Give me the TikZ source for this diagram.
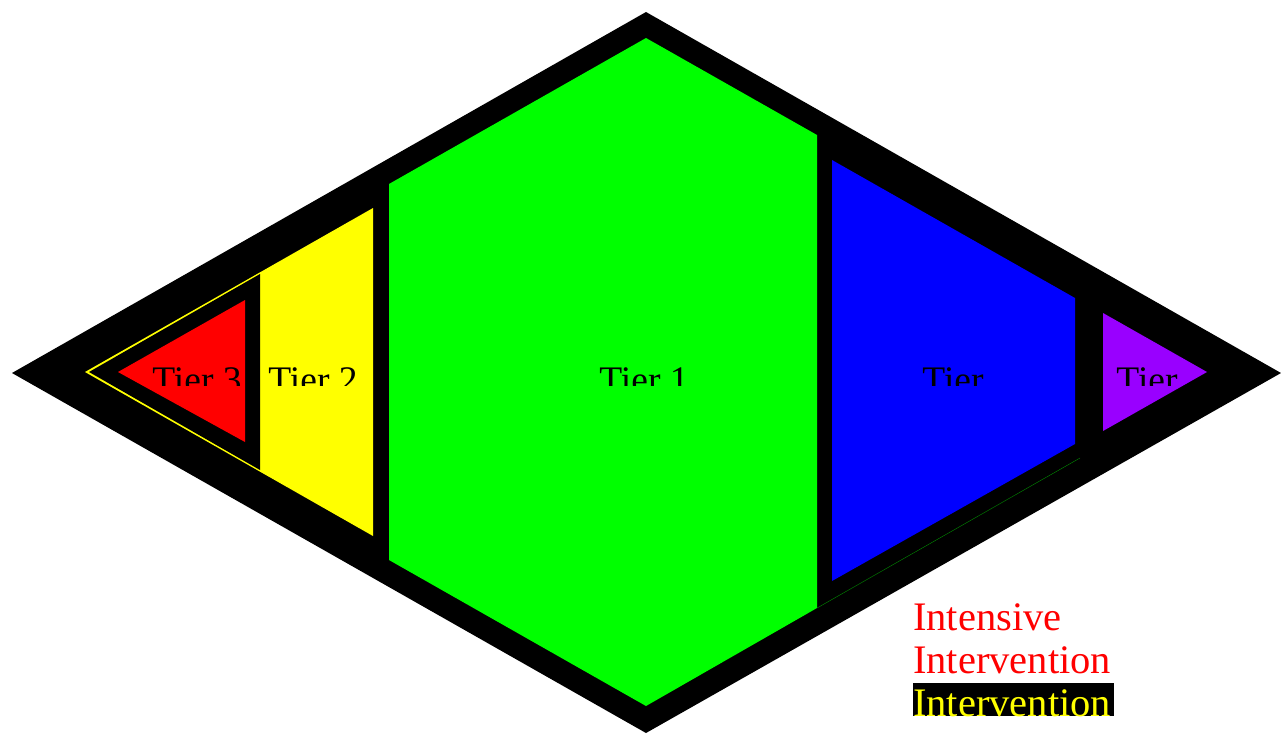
\documentclass[tikz,border=0pt]{standalone}
\usepackage{fontspec}
\setmainfont{Liberation Serif}
\definecolor{tgreen}{RGB}{0,255,0}
\definecolor{tblue}{RGB}{0,0,255}
\definecolor{tred}{RGB}{255,0,0}
\definecolor{tyellow}{RGB}{255,255,0}
\definecolor{tpurple}{RGB}{153,0,255}
\definecolor{tline}{RGB}{0,140,0}
\begin{document}
\begin{tikzpicture}[x=1pt,y=-1pt,
  tierlabel/.style={inner sep=0pt,anchor=base,font=\fontsize{37.5}{40}\selectfont,text=black},
  legendtext/.style={inner sep=0pt,anchor=base west,font=\fontsize{40.5}{44}\selectfont}]
\useasboundingbox (0,0) rectangle (1281,734);
% outer diamond
\fill[black] (12,373) -- (646,12) -- (1281,373) -- (646,733) -- cycle;
% green hexagon (tier 1)
\fill[tgreen] (646,38) -- (817,135) -- (817,608) -- (646,706) -- (389,560) -- (389,184) -- cycle;
\draw[tline,line width=0.4pt] (817,608) -- (1080,458);
% blue (tier 4)
\fill[tblue] (832,160) -- (1075,298) -- (1075,444) -- (832,581) -- cycle;
% purple (tier 5)
\fill[tpurple] (1103,313) -- (1207,372) -- (1103,431) -- cycle;
% yellow (tier 2)
\fill[tyellow] (85,372) -- (373,208) -- (373,536) -- cycle;
% black border triangle and red (tier 3)
\fill[black] (89,372) -- (260,274) -- (260,470) -- cycle;
\fill[tred] (118,372) -- (245,300) -- (245,442) -- cycle;
% labels (clipped)
\begin{scope}
\clip (0,0) rectangle (1281,385);
\node[tierlabel] (t3) at (197,392) {Tier 3};
\node[tierlabel] (t2) at (313,392) {Tier 2};
\node[tierlabel] (t1) at (644,392) {Tier 1};
\node[tierlabel] (t4) at (953,392) {Tier};
\node[tierlabel] (t5) at (1147,392) {Tier};
\end{scope}
% legend
\node[legendtext,text=tred] (l1) at (913,630) {Intensive};
\node[legendtext,text=tred] (l2) at (913,673) {Intervention};
\fill[black] (913,683) rectangle (1114,716);
\begin{scope}
\clip (913,683) rectangle (1114,716);
\node[legendtext,text=tyellow] (l3) at (913,716) {Intervention};
\end{scope}
\end{tikzpicture}
\end{document}
